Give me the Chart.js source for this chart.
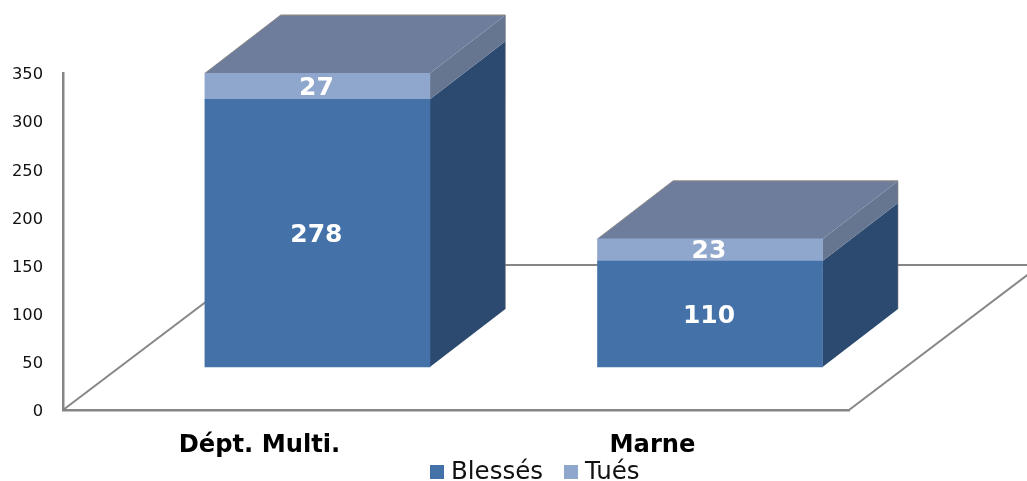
<!DOCTYPE html>
<html>
<head>
<meta charset="utf-8">
<script src="https://cdn.jsdelivr.net/npm/chart.js@4/dist/chart.umd.min.js"></script>
<style>
    html, body { margin: 0; padding: 0; background: #fff; overflow: hidden; }
    canvas { display: block; }
</style>
</head>
<body>
<canvas id="chart" width="1027" height="481"></canvas>
<script>
var categories = ["Dépt. Multi.", "Marne"];
var blesses = [278, 110];
var tues = [27, 23];
var axisMin = 0, axisMax = 350, axisStep = 50;

var FONT = "'DejaVu Sans', Verdana, sans-serif";
var LINE = "#868686";
var depthX = 75.5, depthY = -58;

function poly(ctx, pts, color) {
    ctx.beginPath();
    ctx.moveTo(pts[0][0], pts[0][1]);
    for (var i = 1; i < pts.length; i++) ctx.lineTo(pts[i][0], pts[i][1]);
    ctx.closePath();
    ctx.fillStyle = color;
    ctx.fill();
}

function segment(ctx, x1, y1, x2, y2, width) {
    ctx.beginPath();
    ctx.moveTo(x1, y1);
    ctx.lineTo(x2, y2);
    ctx.lineWidth = width;
    ctx.strokeStyle = LINE;
    ctx.stroke();
}

var box3d = {
    id: "box3d",
    beforeDatasetsDraw: function (chart) {
        var ctx = chart.ctx, area = chart.chartArea;
        ctx.save();

        //floor, behind the columns
        var backY = area.bottom - 145, backDx = 145 / 0.757;
        segment(ctx, area.left, area.bottom, area.left + backDx, backY, 2);
        segment(ctx, area.right, area.bottom, area.right + backDx, backY, 2);
        segment(ctx, area.left + backDx, backY, chart.width, backY, 2.2);

        //sides and top of the columns
        var low = chart.getDatasetMeta(0).data, high = chart.getDatasetMeta(1).data;
        for (var i = 0; i < low.length; i++) {
            var a = low[i].getProps(["x", "y", "base", "width"], true);
            var b = high[i].getProps(["x", "y", "base", "width"], true);
            var left = a.x - a.width / 2, right = a.x + a.width / 2;
            poly(ctx, [[right, a.base], [right + depthX, a.base + depthY], [right + depthX, a.y + depthY], [right, a.y]], "#2c4a70");
            poly(ctx, [[right, a.y], [right + depthX, a.y + depthY], [right + depthX, b.y + depthY], [right, b.y]], "#667590");
            poly(ctx, [[left, b.y], [left + depthX, b.y + depthY], [right + depthX, b.y + depthY], [right, b.y]], "#6f7d9c");
            segment(ctx, left, b.y, left + depthX, b.y + depthY, 1);
            segment(ctx, left + depthX, b.y + depthY, right + depthX, b.y + depthY, 1.5);
            segment(ctx, right + depthX, b.y + depthY, right + depthX, a.base + depthY, 0.6);
        }
        ctx.restore();
    },
    afterDatasetsDraw: function (chart) {
        var ctx = chart.ctx;
        ctx.save();

        //values inside the columns
        ctx.font = "bold 25px " + FONT;
        ctx.fillStyle = "#fff";
        ctx.textAlign = "center";
        ctx.textBaseline = "middle";
        chart.data.datasets.forEach(function (ds, d) {
            chart.getDatasetMeta(d).data.forEach(function (bar, i) {
                var p = bar.getProps(["x", "y", "base"], true);
                ctx.fillText(ds.data[i].y, p.x - 1, (p.y + p.base) / 2 + 2);
            });
        });

        //legend
        var legendX = [430, 564];
        ctx.font = "24.5px " + FONT;
        ctx.textAlign = "left";
        chart.data.datasets.forEach(function (ds, d) {
            ctx.fillStyle = ds.backgroundColor;
            ctx.fillRect(legendX[d], 465, 14, 14);
            ctx.fillStyle = "#111";
            ctx.fillText(ds.label, legendX[d] + 21, 473);
        });
        ctx.restore();
    }
};

new Chart(document.getElementById("chart"), {
    type: "bar",
    data: {
        labels: categories,
        datasets: [
            {
                label: "Blessés",
                data: blesses.map(function (v, i) { return { x: i, y: v }; }),
                backgroundColor: "#4472a8",
                xAxisID: "xBar",
                yAxisID: "yBar",
                barThickness: 225
            },
            {
                label: "Tués",
                data: tues.map(function (v, i) { return { x: i, y: v }; }),
                backgroundColor: "#8fa6cd",
                xAxisID: "xBar",
                yAxisID: "yBar",
                barThickness: 225
            }
        ]
    },
    plugins: [box3d],
    options: {
        responsive: false,
        animation: false,
        events: [],
        layout: { padding: { top: 73, right: 178, left: 0, bottom: 0 } },
        plugins: { legend: { display: false }, tooltip: { enabled: false } },
        scales: {
            x: {
                offset: true,
                grid: { display: false, drawTicks: false },
                border: { color: LINE, width: 2.5 },
                ticks: { color: "#000", padding: 21, maxRotation: 0, font: { family: FONT, size: 24.2, weight: "bold" } },
                afterFit: function (scale) { scale.height = 71; }
            },
            y: {
                min: axisMin,
                max: axisMax,
                grid: { display: false, drawTicks: false },
                border: { color: LINE, width: 2.5 },
                ticks: {
                    stepSize: axisStep,
                    color: "#111",
                    padding: 20,
                    font: { family: FONT, size: 16.3, lineHeight: 0.25 },
                    //blank first line pushes the number down a little
                    callback: function (value) { return ["", String(value)]; }
                },
                afterFit: function (scale) { scale.width = 63; }
            },
            //columns stand on the floor, set back from the axes
            xBar: { type: "linear", display: false, offset: false, stacked: true, min: -0.648, max: 1.354 },
            yBar: { display: false, stacked: true, min: -44.65, max: 305.3 }
        }
    }
});
</script>
</body>
</html>
